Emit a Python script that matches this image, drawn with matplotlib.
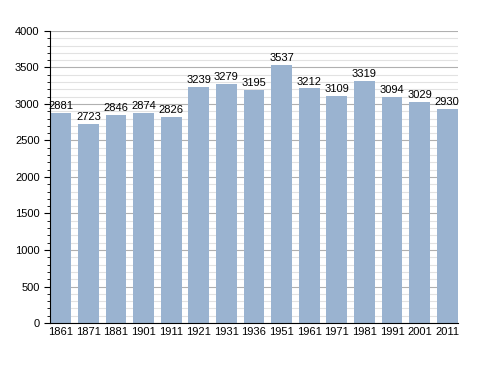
import numpy as np
import matplotlib.pyplot as plt
from matplotlib.ticker import MultipleLocator

plt.rcParams['font.family'] = ['Liberation Sans', 'DejaVu Sans']

years = ["1861", "1871", "1881", "1901", "1911", "1921", "1931", "1936",
         "1951", "1961", "1971", "1981", "1991", "2001", "2011"]
population = [2881, 2723, 2846, 2874, 2826, 3239, 3279, 3195,
              3537, 3212, 3109, 3319, 3094, 3029, 2930]

fig = plt.figure(figsize=(4.88, 3.73), dpi=100)
ax = fig.add_axes([0.1025, 0.134, 0.836, 0.783])

x = np.arange(len(years))
ax.bar(x, population, width=0.75, color="#9ab3d0", zorder=2)
for xi, v in zip(x, population):
    ax.text(xi, v + 25, str(v), ha="center", va="bottom", fontsize=8, zorder=3)

ax.set_xlim(-0.39, len(years) - 1 + 0.39)
ax.set_ylim(0, 4000)
ax.set_xticks(x)
ax.set_xticklabels(years, fontsize=8)
ax.yaxis.set_major_locator(MultipleLocator(500))
ax.yaxis.set_minor_locator(MultipleLocator(100))
ax.tick_params(axis="y", labelsize=8, length=4, width=0.8)
ax.tick_params(axis="y", which="minor", length=2.5, width=0.6)
ax.tick_params(axis="x", length=0, pad=3)
ax.grid(axis="y", which="major", color="#b0b0b0", linewidth=0.8, zorder=0)
ax.grid(axis="y", which="minor", color="#e2e2e2", linewidth=0.8, zorder=0)
ax.set_axisbelow(True)
for s in ["top", "right"]:
    ax.spines[s].set_visible(False)

fig.savefig("out.png", dpi=100)
